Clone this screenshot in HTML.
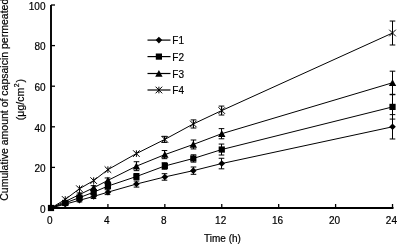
<!DOCTYPE html>
<html><head><meta charset="utf-8"><style>
html,body{margin:0;padding:0;background:#fff;}
body{width:397px;height:244px;overflow:hidden;}
svg{display:block;filter:grayscale(1);}
text{font-family:"Liberation Sans",sans-serif;font-size:10px;fill:#000;stroke:#000;stroke-width:0.2px;}
</style></head><body>
<svg width="397" height="244" viewBox="0 0 397 244">
<path d="M51.0 5V208.0H393.5" stroke="#000" stroke-width="1.9" fill="none"/>
<path d="M51.0 208.00H55.0" stroke="#000" stroke-width="1.3"/>
<text x="45.5" y="212.70" text-anchor="end">0</text>
<path d="M51.0 167.40H55.0" stroke="#000" stroke-width="1.3"/>
<text x="45.5" y="172.10" text-anchor="end">20</text>
<path d="M51.0 126.80H55.0" stroke="#000" stroke-width="1.3"/>
<text x="45.5" y="131.50" text-anchor="end">40</text>
<path d="M51.0 86.20H55.0" stroke="#000" stroke-width="1.3"/>
<text x="45.5" y="90.90" text-anchor="end">60</text>
<path d="M51.0 45.60H55.0" stroke="#000" stroke-width="1.3"/>
<text x="45.5" y="50.30" text-anchor="end">80</text>
<path d="M51.0 5.00H55.0" stroke="#000" stroke-width="1.3"/>
<text x="45.5" y="9.70" text-anchor="end">100</text>
<path d="M51.00 208.0V204.0" stroke="#000" stroke-width="1.3"/>
<text x="49.90" y="223.8" text-anchor="middle">0</text>
<path d="M107.92 208.0V204.0" stroke="#000" stroke-width="1.3"/>
<text x="106.82" y="223.8" text-anchor="middle">4</text>
<path d="M164.84 208.0V204.0" stroke="#000" stroke-width="1.3"/>
<text x="163.74" y="223.8" text-anchor="middle">8</text>
<path d="M221.76 208.0V204.0" stroke="#000" stroke-width="1.3"/>
<text x="220.66" y="223.8" text-anchor="middle">12</text>
<path d="M278.68 208.0V204.0" stroke="#000" stroke-width="1.3"/>
<text x="277.58" y="223.8" text-anchor="middle">16</text>
<path d="M335.60 208.0V204.0" stroke="#000" stroke-width="1.3"/>
<text x="334.50" y="223.8" text-anchor="middle">20</text>
<path d="M392.52 208.0V204.0" stroke="#000" stroke-width="1.3"/>
<text x="391.42" y="223.8" text-anchor="middle">24</text>
<text x="222.5" y="241.5" text-anchor="middle">Time (h)</text>
<text transform="translate(7.9 99.75) rotate(-90)" text-anchor="middle" style="font-size:10.5px">Cumulative amount of capsaicin permeated</text>
<text transform="translate(23.5 99.6) rotate(-90)" text-anchor="middle" style="font-size:10.5px">(μg/cm<tspan dy="-4.5" dx="0.6" font-size="7">2</tspan><tspan dy="4.5" dx="0.8">)</tspan></text>
<polyline points="51.00,208.00 65.23,199.47 79.46,188.72 93.69,180.59 107.92,169.63 136.38,153.60 164.84,139.39 193.30,123.96 221.76,110.56 392.52,33.01" fill="none" stroke="#000" stroke-width="1.0"/>
<polyline points="51.00,208.00 65.23,201.50 79.46,194.60 93.69,187.70 107.92,180.39 136.38,166.18 164.84,154.61 193.30,144.46 221.76,133.70 392.52,82.75" fill="none" stroke="#000" stroke-width="1.0"/>
<polyline points="51.00,208.00 65.23,202.93 79.46,197.65 93.69,192.17 107.92,186.08 136.38,176.53 164.84,165.98 193.30,158.47 221.76,149.54 392.52,106.91" fill="none" stroke="#000" stroke-width="1.0"/>
<polyline points="51.00,208.00 65.23,204.14 79.46,200.29 93.69,196.43 107.92,192.17 136.38,184.05 164.84,176.94 193.30,170.65 221.76,163.54 392.52,126.80" fill="none" stroke="#000" stroke-width="1.0"/>
<path d="M164.50 136.34V142.43M161.70 136.34H167.30M161.70 142.43H167.30" stroke="#000" stroke-width="1" fill="none"/>
<path d="M193.50 119.90V128.02M190.70 119.90H196.30M190.70 128.02H196.30" stroke="#000" stroke-width="1" fill="none"/>
<path d="M221.50 106.09V115.03M218.70 106.09H224.30M218.70 115.03H224.30" stroke="#000" stroke-width="1" fill="none"/>
<path d="M392.50 21.04V44.99M389.70 21.04H395.30M389.70 44.99H395.30" stroke="#000" stroke-width="1" fill="none"/>
<path d="M65.50 200.49V202.52M62.70 200.49H68.30M62.70 202.52H68.30" stroke="#000" stroke-width="1" fill="none"/>
<path d="M79.50 192.98V196.23M76.70 192.98H82.30M76.70 196.23H82.30" stroke="#000" stroke-width="1" fill="none"/>
<path d="M93.50 185.67V189.73M90.70 185.67H96.30M90.70 189.73H96.30" stroke="#000" stroke-width="1" fill="none"/>
<path d="M107.50 177.96V182.83M104.70 177.96H110.30M104.70 182.83H110.30" stroke="#000" stroke-width="1" fill="none"/>
<path d="M136.50 161.72V170.65M133.70 161.72H139.30M133.70 170.65H139.30" stroke="#000" stroke-width="1" fill="none"/>
<path d="M164.50 150.55V158.67M161.70 150.55H167.30M161.70 158.67H167.30" stroke="#000" stroke-width="1" fill="none"/>
<path d="M193.50 140.00V148.93M190.70 140.00H196.30M190.70 148.93H196.30" stroke="#000" stroke-width="1" fill="none"/>
<path d="M221.50 128.63V138.78M218.70 128.63H224.30M218.70 138.78H224.30" stroke="#000" stroke-width="1" fill="none"/>
<path d="M392.50 71.18V94.32M389.70 71.18H395.30M389.70 94.32H395.30" stroke="#000" stroke-width="1" fill="none"/>
<path d="M65.50 201.91V203.94M62.70 201.91H68.30M62.70 203.94H68.30" stroke="#000" stroke-width="1" fill="none"/>
<path d="M79.50 196.02V199.27M76.70 196.02H82.30M76.70 199.27H82.30" stroke="#000" stroke-width="1" fill="none"/>
<path d="M93.50 190.14V194.20M90.70 190.14H96.30M90.70 194.20H96.30" stroke="#000" stroke-width="1" fill="none"/>
<path d="M107.50 183.64V188.51M104.70 183.64H110.30M104.70 188.51H110.30" stroke="#000" stroke-width="1" fill="none"/>
<path d="M136.50 173.49V179.58M133.70 173.49H139.30M133.70 179.58H139.30" stroke="#000" stroke-width="1" fill="none"/>
<path d="M164.50 162.73V169.23M161.70 162.73H167.30M161.70 169.23H167.30" stroke="#000" stroke-width="1" fill="none"/>
<path d="M193.50 154.81V162.12M190.70 154.81H196.30M190.70 162.12H196.30" stroke="#000" stroke-width="1" fill="none"/>
<path d="M221.50 144.06V155.02M218.70 144.06H224.30M218.70 155.02H224.30" stroke="#000" stroke-width="1" fill="none"/>
<path d="M392.50 94.73V119.09M389.70 94.73H395.30M389.70 119.09H395.30" stroke="#000" stroke-width="1" fill="none"/>
<path d="M65.50 203.13V205.16M62.70 203.13H68.30M62.70 205.16H68.30" stroke="#000" stroke-width="1" fill="none"/>
<path d="M79.50 198.66V201.91M76.70 198.66H82.30M76.70 201.91H82.30" stroke="#000" stroke-width="1" fill="none"/>
<path d="M93.50 194.40V198.46M90.70 194.40H96.30M90.70 198.46H96.30" stroke="#000" stroke-width="1" fill="none"/>
<path d="M107.50 189.73V194.60M104.70 189.73H110.30M104.70 194.60H110.30" stroke="#000" stroke-width="1" fill="none"/>
<path d="M136.50 181.00V187.09M133.70 181.00H139.30M133.70 187.09H139.30" stroke="#000" stroke-width="1" fill="none"/>
<path d="M164.50 173.69V180.19M161.70 173.69H167.30M161.70 180.19H167.30" stroke="#000" stroke-width="1" fill="none"/>
<path d="M193.50 166.99V174.30M190.70 166.99H196.30M190.70 174.30H196.30" stroke="#000" stroke-width="1" fill="none"/>
<path d="M221.50 158.27V168.82M218.70 158.27H224.30M218.70 168.82H224.30" stroke="#000" stroke-width="1" fill="none"/>
<path d="M392.50 114.62V138.98M389.70 114.62H395.30M389.70 138.98H395.30" stroke="#000" stroke-width="1" fill="none"/>
<path d="M61.93 196.17L68.53 202.77M68.53 196.17L61.93 202.77M65.23 196.17L65.23 202.77" stroke="#000" stroke-width="1" fill="none"/>
<path d="M76.16 185.41L82.76 192.02M82.76 185.41L76.16 192.02M79.46 185.41L79.46 192.02" stroke="#000" stroke-width="1" fill="none"/>
<path d="M90.39 177.29L96.99 183.90M96.99 177.29L90.39 183.90M93.69 177.29L93.69 183.90" stroke="#000" stroke-width="1" fill="none"/>
<path d="M104.62 166.33L111.22 172.93M111.22 166.33L104.62 172.93M107.92 166.33L107.92 172.93" stroke="#000" stroke-width="1" fill="none"/>
<path d="M133.08 150.30L139.68 156.90M139.68 150.30L133.08 156.90M136.38 150.30L136.38 156.90" stroke="#000" stroke-width="1" fill="none"/>
<path d="M161.54 136.09L168.14 142.69M168.14 136.09L161.54 142.69M164.84 136.09L164.84 142.69" stroke="#000" stroke-width="1" fill="none"/>
<path d="M190.00 120.66L196.60 127.26M196.60 120.66L190.00 127.26M193.30 120.66L193.30 127.26" stroke="#000" stroke-width="1" fill="none"/>
<path d="M218.46 107.26L225.06 113.86M225.06 107.26L218.46 113.86M221.76 107.26L221.76 113.86" stroke="#000" stroke-width="1" fill="none"/>
<path d="M389.22 29.71L395.82 36.31M395.82 29.71L389.22 36.31M392.52 29.71L392.52 36.31" stroke="#000" stroke-width="1" fill="none"/>
<path d="M65.23 197.90L68.93 204.70L61.53 204.70Z" fill="#000"/>
<path d="M79.46 191.00L83.16 197.80L75.76 197.80Z" fill="#000"/>
<path d="M93.69 184.10L97.39 190.90L89.99 190.90Z" fill="#000"/>
<path d="M107.92 176.79L111.62 183.59L104.22 183.59Z" fill="#000"/>
<path d="M136.38 162.58L140.08 169.38L132.68 169.38Z" fill="#000"/>
<path d="M164.84 151.01L168.54 157.81L161.14 157.81Z" fill="#000"/>
<path d="M193.30 140.86L197.00 147.66L189.60 147.66Z" fill="#000"/>
<path d="M221.76 130.10L225.46 136.90L218.06 136.90Z" fill="#000"/>
<path d="M392.52 79.15L396.22 85.95L388.82 85.95Z" fill="#000"/>
<rect x="47.90" y="204.90" width="6.20" height="6.20" fill="#000"/>
<rect x="62.13" y="199.83" width="6.20" height="6.20" fill="#000"/>
<rect x="76.36" y="194.55" width="6.20" height="6.20" fill="#000"/>
<rect x="90.59" y="189.07" width="6.20" height="6.20" fill="#000"/>
<rect x="104.82" y="182.98" width="6.20" height="6.20" fill="#000"/>
<rect x="133.28" y="173.44" width="6.20" height="6.20" fill="#000"/>
<rect x="161.74" y="162.88" width="6.20" height="6.20" fill="#000"/>
<rect x="190.20" y="155.37" width="6.20" height="6.20" fill="#000"/>
<rect x="218.66" y="146.44" width="6.20" height="6.20" fill="#000"/>
<rect x="389.42" y="103.81" width="6.20" height="6.20" fill="#000"/>
<path d="M65.23 200.84L68.53 204.14L65.23 207.44L61.93 204.14Z" fill="#000"/>
<path d="M79.46 196.99L82.76 200.29L79.46 203.59L76.16 200.29Z" fill="#000"/>
<path d="M93.69 193.13L96.99 196.43L93.69 199.73L90.39 196.43Z" fill="#000"/>
<path d="M107.92 188.87L111.22 192.17L107.92 195.47L104.62 192.17Z" fill="#000"/>
<path d="M136.38 180.75L139.68 184.05L136.38 187.35L133.08 184.05Z" fill="#000"/>
<path d="M164.84 173.64L168.14 176.94L164.84 180.24L161.54 176.94Z" fill="#000"/>
<path d="M193.30 167.35L196.60 170.65L193.30 173.95L190.00 170.65Z" fill="#000"/>
<path d="M221.76 160.24L225.06 163.54L221.76 166.84L218.46 163.54Z" fill="#000"/>
<path d="M392.52 123.50L395.82 126.80L392.52 130.10L389.22 126.80Z" fill="#000"/>
<path d="M147.5 40.1H170.5" stroke="#000" stroke-width="1.2"/>
<path d="M158.90 36.80L162.20 40.10L158.90 43.40L155.60 40.10Z" fill="#000"/>
<text x="172.3" y="44.30">F1</text>
<path d="M147.5 56.6H170.5" stroke="#000" stroke-width="1.2"/>
<rect x="155.80" y="53.50" width="6.20" height="6.20" fill="#000"/>
<text x="172.3" y="60.80">F2</text>
<path d="M147.5 73.5H170.5" stroke="#000" stroke-width="1.2"/>
<path d="M158.90 69.90L162.60 76.70L155.20 76.70Z" fill="#000"/>
<text x="172.3" y="77.70">F3</text>
<path d="M147.5 90.0H170.5" stroke="#000" stroke-width="1.2"/>
<path d="M155.60 86.70L162.20 93.30M162.20 86.70L155.60 93.30M158.90 86.70L158.90 93.30" stroke="#000" stroke-width="1" fill="none"/>
<text x="172.3" y="94.20">F4</text>
</svg>
</body></html>
